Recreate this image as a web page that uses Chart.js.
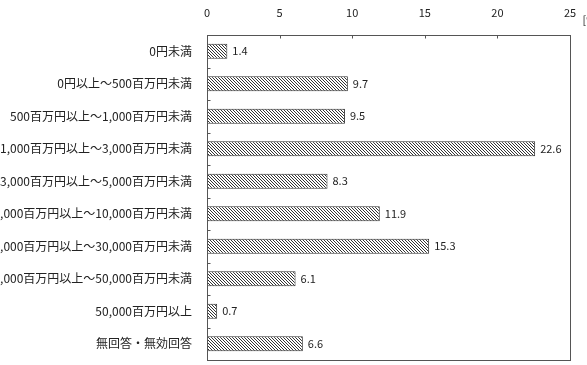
<!DOCTYPE html>
<html>
<head>
<meta charset="utf-8">
<script src="https://cdn.jsdelivr.net/npm/chart.js@4.4.1/dist/chart.umd.min.js"></script>
<style>
  html, body { margin: 0; padding: 0; background: #fff; }
  #wrap { width: 587px; height: 365px; }
</style>
</head>
<body>
<div id="wrap"><canvas id="chart" width="587" height="365"></canvas></div>
<script>
// データ
const categories = [
  '0円未満',
  '0円以上～500百万円未満',
  '500百万円以上～1,000百万円未満',
  '1,000百万円以上～3,000百万円未満',
  '3,000百万円以上～5,000百万円未満',
  '5,000百万円以上～10,000百万円未満',
  '10,000百万円以上～30,000百万円未満',
  '30,000百万円以上～50,000百万円未満',
  '50,000百万円以上',
  '無回答・無効回答'
];
const percents = [1.4, 9.7, 9.5, 22.6, 8.3, 11.9, 15.3, 6.1, 0.7, 6.6];
const xTicks = [0, 5, 10, 15, 20, 25];
const unitLabel = '[%]';

const FONT = '"Noto Sans CJK JP", "Noto Sans", sans-serif';

// 斜線ハッチ
function makeHatch() {
  const c = document.createElement('canvas');
  c.width = 3; c.height = 3;
  const g = c.getContext('2d');
  g.fillStyle = '#fff';
  g.fillRect(0, 0, 3, 3);
  g.fillStyle = '#333';
  g.fillRect(0, 0, 1, 1);
  g.fillRect(1, 1, 1, 1);
  g.fillRect(2, 2, 1, 1);
  return g.createPattern(c, 'repeat');
}

const ctx = document.getElementById('chart').getContext('2d');

// 枠・内向き目盛・数値ラベル
const decor = {
  id: 'decor',
  afterDatasetsDraw(chart) {
    const c = chart.ctx;
    const a = chart.chartArea;
    const xs = chart.scales.x, ys = chart.scales.y;
    const left = Math.round(xs.getPixelForValue(0)) + 0.5;
    const right = Math.round(xs.getPixelForValue(25)) + 0.5;
    const top = Math.round(a.top) + 0.5;
    const bottom = Math.round(a.bottom) + 0.5;
    c.save();
    c.strokeStyle = '#555';
    c.lineWidth = 1;
    c.strokeRect(left, top, right - left, bottom - top);
    c.beginPath();
    xTicks.slice(1, -1).forEach(v => {
      const x = Math.round(xs.getPixelForValue(v)) + 0.5;
      c.moveTo(x, top); c.lineTo(x, top + 3);
    });
    for (let i = 0; i < categories.length - 1; i++) {
      const y = Math.round((ys.getPixelForValue(i) + ys.getPixelForValue(i + 1)) / 2) + 0.5;
      c.moveTo(left, y); c.lineTo(left + 3, y);
    }
    c.stroke();

    // 値ラベル
    c.fillStyle = '#222';
    c.font = '11px ' + FONT;
    c.textBaseline = 'middle';
    c.textAlign = 'left';
    const meta = chart.getDatasetMeta(0);
    meta.data.forEach((bar, i) => {
      c.fillText(percents[i].toFixed(1), bar.x + 5, bar.y);
    });

    // 単位
    c.font = '11px ' + FONT;
    c.fillText(unitLabel, right + 12, 20);
    c.restore();
  }
};

new Chart(ctx, {
  type: 'bar',
  data: {
    labels: categories,
    datasets: [{
      data: percents,
      backgroundColor: makeHatch(),
      borderColor: '#333',
      borderWidth: 1,
      borderSkipped: false,
      categoryPercentage: 0.92,
      barPercentage: 0.5
    }]
  },
  options: {
    indexAxis: 'y',
    responsive: false,
    animation: false,
    layout: { padding: { left: 0, right: 17, top: 0, bottom: 5 } },
    plugins: { legend: { display: false }, tooltip: { enabled: false } },
    scales: {
      x: {
        position: 'top',
        min: 0, max: 25,
        afterFit(s) { s.height = 35; },
        afterBuildTicks(s) { s.ticks = xTicks.map(v => ({ value: v })); },
        grid: { display: false },
        border: { display: false },
        ticks: { color: '#222', font: { family: FONT, size: 11 }, padding: 8, maxRotation: 0 }
      },
      y: {
        afterFit(s) { s.width = 207; s.paddingTop = 0; s.paddingBottom = 0; },
        grid: { display: false },
        border: { display: false },
        ticks: { color: '#222', font: { family: FONT, size: 12 }, padding: 7, autoSkip: false }
      }
    }
  },
  plugins: [decor]
});
</script>
</body>
</html>
